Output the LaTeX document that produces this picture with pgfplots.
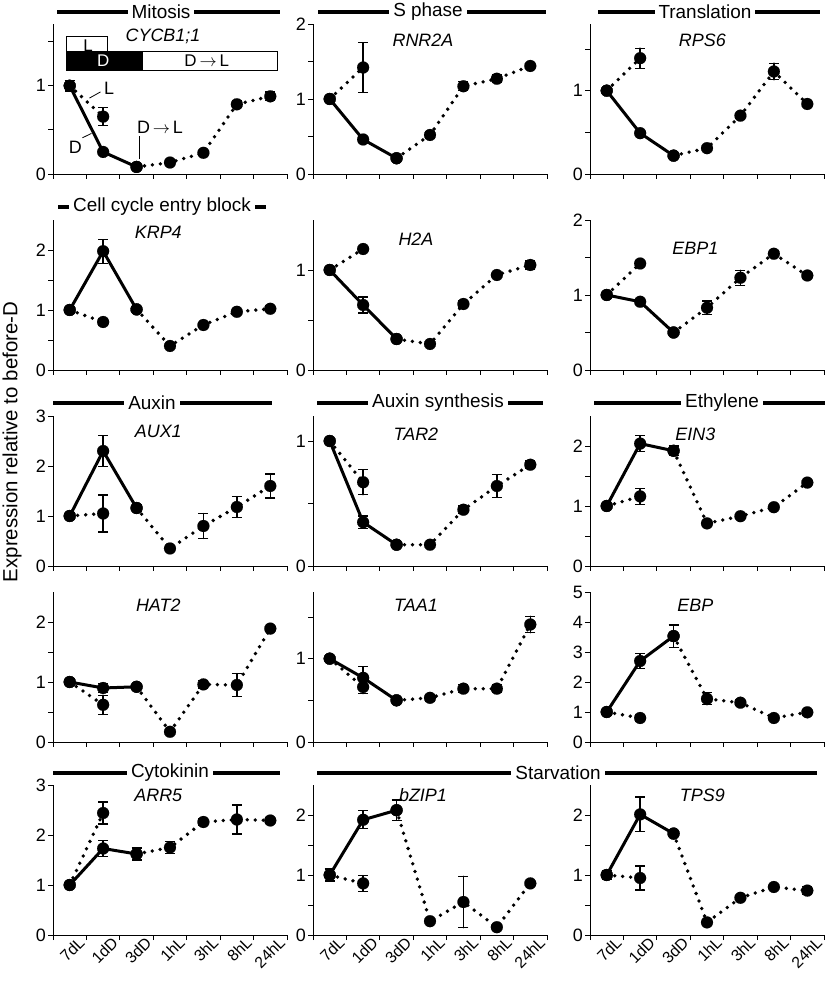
\documentclass[border=0pt]{standalone}
\usepackage{fontspec}
\setmainfont{Liberation Sans}
\usepackage{pgfplots}
\pgfplotsset{compat=1.18}

\pgfplotsset{
  panel/.style={
    scale only axis, width=234bp, height=150bp,
    axis x line*=bottom, axis y line*=left,
    xmin=-0.5, xmax=6.5, ymin=0,
    xtick={-0.5,0.5,1.5,2.5,3.5,4.5,5.5,6.5}, xticklabels={},
    tick align=outside, major tick length=5bp, minor tick length=5bp,
    every tick/.style={black, line width=0.9bp},
    axis line style={black, line width=0.9bp, -},
    yticklabel style={font=\fontsize{18}{20}\selectfont, inner sep=2bp},
    /pgf/number format/assume math mode=true,
    clip=false, anchor=south west,
  },
  bottomrow/.style={
    extra x ticks={0,1,2,3,4,5,6},
    extra x tick labels={7dL,1dD,3dD,1hL,3hL,8hL,24hL},
    extra x tick style={major tick length=0bp,
      xticklabel style={rotate=45, anchor=north east, inner sep=0bp,
        font=\fontsize{16}{18}\selectfont, yshift=-6bp, xshift=5bp}},
  },
  base/.style={black, mark=*, mark size=6bp,
    mark options={solid, fill=black, line width=0.1bp},
    error bars/y dir=both, error bars/y explicit,
    error bars/error bar style={solid, line width=1.3bp},
    error bars/error mark options={solid, rotate=90, line width=1.3bp, mark size=5bp}},
  Dser/.style={base, line width=3bp, line join=round},
  Lser/.style={base, line width=3.8bp, line cap=round, dash pattern=on 0bp off 8bp},
}
\newcommand{\gene}[2]{\node[font=\itshape\fontsize{18}{20}\selectfont] at (rel axis cs:#1) {#2};}
\newcommand{\hdr}[4]{% x1 x2 y
  \draw[line width=3.8bp] (#1bp,#3bp) -- (#2bp,#3bp);}
\newcommand{\htext}[3]{\node[fill=white, inner xsep=4bp, inner ysep=1bp, font=\fontsize{19}{21}\selectfont] at (#1bp,#2bp) {#3};}

\begin{document}
\begin{tikzpicture}
\useasboundingbox (0bp,0bp) rectangle (835bp,985bp);

% y label
\node[rotate=90, font=\fontsize{20.5}{22}\selectfont] at (12bp,543bp) {Expression relative to before-D};

% headers
\hdr{57}{280}{973}{}\htext{161}{973}{Mitosis}
\hdr{318}{546}{973}{}\htext{428}{973}{S phase}
\hdr{598}{820}{973}{}\htext{705}{973}{Translation}
\hdr{58}{266}{778}{}\htext{162}{778}{Cell cycle entry block}
\hdr{53}{272}{582}{}\htext{152}{582}{Auxin}
\hdr{317}{543}{582}{}\htext{438}{582}{Auxin synthesis}
\hdr{594}{825}{582}{}\htext{722}{582}{Ethylene}
\hdr{53}{280}{212}{}\htext{170}{212}{Cytokinin}
\hdr{317}{817}{212}{}\htext{558}{212}{Starvation}

% ---------------- Row 1
\begin{axis}[panel, at={(53bp,811bp)}, ymax=1.7, ytick={0,1}, minor ytick={0.5,1.5}]
\addplot[Lser] coordinates {(0,1) (1,0.65) +- (0,0.1)};
\addplot[Lser] coordinates {(2,0.08) (3,0.13) (4,0.24) +- (0,0.03) (5,0.79) +- (0,0.04) (6,0.88) +- (0,0.05)};
\addplot[Dser] coordinates {(0,1) +- (0,0.06) (1,0.25) +- (0,0.02) (2,0.08) +- (0,0.01)};
\gene{0.47,0.92}{CYCB1;1}
\draw[line width=1bp, fill=white] (axis cs:-0.09,1.39) rectangle (axis cs:1.14,1.56);
\draw[line width=1bp, fill=black] (axis cs:-0.09,1.17) rectangle (axis cs:2.18,1.39);
\draw[line width=1bp, fill=white] (axis cs:2.18,1.17) rectangle (axis cs:6.21,1.39);
\node[font=\fontsize{17}{19}\selectfont, inner sep=0] at (axis cs:0.55,1.45) {L};
\node[font=\fontsize{17}{19}\selectfont, white, inner sep=0] at (axis cs:1.0,1.28) {D};
\node[font=\fontsize{17}{19}\selectfont, inner sep=0] at (axis cs:4.1,1.28) {D$\,\rightarrow\,$L};
\node[font=\fontsize{18}{20}\selectfont, inner sep=0] at (axis cs:1.18,0.97) {L};
\draw[line width=0.8bp] (axis cs:0.59,0.86) -- (axis cs:0.92,0.93);
\node[font=\fontsize{18}{20}\selectfont, inner sep=0] at (axis cs:0.17,0.30) {D};
\draw[line width=0.8bp] (axis cs:0.38,0.41) -- (axis cs:0.65,0.46);
\node[font=\fontsize{18}{20}\selectfont, inner sep=0] at (axis cs:2.7,0.53) {D$\,\rightarrow\,$L};
\draw[line width=0.8bp] (axis cs:2.07,0.43) -- (axis cs:2.07,0.17);
\end{axis}

\begin{axis}[panel, at={(313bp,811bp)}, ymax=2, ytick={0,1,2}, minor ytick={0.5,1.5}]
\addplot[Lser] coordinates {(0,1) (1,1.42) +- (0,0.33)};
\addplot[Lser] coordinates {(2,0.21) (3,0.52) +- (0,0.04) (4,1.17) +- (0,0.06) (5,1.27) +- (0,0.05) (6,1.44)};
\addplot[Dser] coordinates {(0,1) +- (0,0.02) (1,0.46) +- (0,0.03) (2,0.21)};
\gene{0.47,0.89}{RNR2A}
\end{axis}

\begin{axis}[panel, at={(590bp,811bp)}, ymax=1.8, ytick={0,1}, minor ytick={0.5,1.5}]
\addplot[Lser] coordinates {(0,1) (1,1.39) +- (0,0.12)};
\addplot[Lser] coordinates {(2,0.22) (3,0.31) (4,0.70) +- (0,0.03) (5,1.23) +- (0,0.1) (6,0.84) +- (0,0.02)};
\addplot[Dser] coordinates {(0,1) (1,0.49) (2,0.22)};
\gene{0.48,0.89}{RPS6}
\end{axis}

% ---------------- Row 2
\begin{axis}[panel, at={(53bp,615bp)}, ymax=2.5, ytick={0,1,2}, minor ytick={0.5,1.5}]
\addplot[Lser] coordinates {(0,1) (1,0.80) +- (0,0.06)};
\addplot[Lser] coordinates {(2,1.01) (3,0.40) (4,0.75) +- (0,0.03) (5,0.97) +- (0,0.04) (6,1.02) +- (0,0.05)};
\addplot[Dser] coordinates {(0,1) +- (0,0.05) (1,1.98) +- (0,0.2) (2,1.01) +- (0,0.04)};
\gene{0.45,0.92}{KRP4}
\end{axis}

\begin{axis}[panel, at={(313bp,615bp)}, ymax=1.5, ytick={0,1}, minor ytick={0.5}]
\addplot[Lser] coordinates {(0,1) (1,1.21)};
\addplot[Lser] coordinates {(2,0.31) (3,0.26) (4,0.66) +- (0,0.03) (5,0.95) +- (0,0.02) (6,1.05) +- (0,0.04)};
\addplot[Dser] coordinates {(0,1) +- (0,0.03) (1,0.65) +- (0,0.08) (2,0.31)};
\gene{0.44,0.87}{H2A}
\end{axis}

\begin{axis}[panel, at={(590bp,615bp)}, ymax=2, ytick={0,1,2}, minor ytick={0.5,1.5}]
\addplot[Lser] coordinates {(0,1) (1,1.42)};
\addplot[Lser] coordinates {(2,0.50) (3,0.83) +- (0,0.09) (4,1.23) +- (0,0.1) (5,1.55) +- (0,0.04) (6,1.26) +- (0,0.04)};
\addplot[Dser] coordinates {(0,1) +- (0,0.04) (1,0.91) +- (0,0.03) (2,0.50)};
\gene{0.45,0.81}{EBP1}
\end{axis}

% ---------------- Row 3
\begin{axis}[panel, at={(53bp,419bp)}, ymax=3, ytick={0,1,2,3}]
\addplot[Lser] coordinates {(0,1) (1,1.05) +- (0,0.37)};
\addplot[Lser] coordinates {(2,1.16) (3,0.35) (4,0.8) +- (0,0.25) (5,1.18) +- (0,0.21) (6,1.6) +- (0,0.24)};
\addplot[Dser] coordinates {(0,1) +- (0,0.06) (1,2.3) +- (0,0.31) (2,1.16) +- (0,0.07)};
\gene{0.45,0.9}{AUX1}
\end{axis}

\begin{axis}[panel, at={(313bp,419bp)}, ymax=1.2, ytick={0,1}, minor ytick={0.5}]
\addplot[Lser] coordinates {(0,1) (1,0.67) +- (0,0.1)};
\addplot[Lser] coordinates {(2,0.17) (3,0.17) (4,0.45) +- (0,0.03) (5,0.64) +- (0,0.09) (6,0.81) +- (0,0.03)};
\addplot[Dser] coordinates {(0,1) +- (0,0.02) (1,0.35) +- (0,0.05) (2,0.17) +- (0,0.02)};
\gene{0.44,0.88}{TAR2}
\end{axis}

\begin{axis}[panel, at={(590bp,419bp)}, ymax=2.5, ytick={0,1,2}, minor ytick={0.5,1.5}]
\addplot[Lser] coordinates {(0,1) (1,1.16) +- (0,0.13)};
\addplot[Lser] coordinates {(2,1.92) (3,0.71) (4,0.83) +- (0,0.03) (5,0.98) +- (0,0.03) (6,1.39)};
\addplot[Dser] coordinates {(0,1) +- (0,0.04) (1,2.04) +- (0,0.13) (2,1.92) +- (0,0.08)};
\gene{0.45,0.88}{EIN3}
\end{axis}

% ---------------- Row 4
\begin{axis}[panel, at={(53bp,243bp)}, ymax=2.5, ytick={0,1,2}, minor ytick={0.5,1.5}]
\addplot[Lser] coordinates {(0,1) (1,0.62) +- (0,0.16)};
\addplot[Lser] coordinates {(2,0.92) (3,0.17) (4,0.96) +- (0,0.06) (5,0.95) +- (0,0.19) (6,1.89) +- (0,0.04)};
\addplot[Dser] coordinates {(0,1) +- (0,0.06) (1,0.90) +- (0,0.08) (2,0.92) +- (0,0.03)};
\gene{0.45,0.91}{HAT2}
\end{axis}

\begin{axis}[panel, at={(313bp,243bp)}, ymax=1.8, ytick={0,1}, minor ytick={0.5,1.5}]
\addplot[Lser] coordinates {(0,1) (1,0.66) +- (0,0.08)};
\addplot[Lser] coordinates {(2,0.50) (3,0.53) +- (0,0.04) (4,0.64) +- (0,0.05) (5,0.64) +- (0,0.05) (6,1.41) +- (0,0.1)};
\addplot[Dser] coordinates {(0,1) +- (0,0.02) (1,0.77) +- (0,0.14) (2,0.50) +- (0,0.02)};
\gene{0.44,0.91}{TAA1}
\end{axis}

\begin{axis}[panel, at={(590bp,243bp)}, ymax=5, ytick={0,1,2,3,4,5}]
\addplot[Lser] coordinates {(0,1) (1,0.8) +- (0,0.12)};
\addplot[Lser] coordinates {(2,3.53) (3,1.44) +- (0,0.2) (4,1.31) +- (0,0.1) (5,0.8) +- (0,0.05) (6,0.99) +- (0,0.1)};
\addplot[Dser] coordinates {(0,1) +- (0,0.1) (1,2.7) +- (0,0.25) (2,3.53) +- (0,0.37)};
\gene{0.45,0.91}{EBP}
\end{axis}

% ---------------- Row 5
\begin{axis}[panel, bottomrow, at={(53bp,50bp)}, ymax=3, ytick={0,1,2,3}]
\addplot[Lser] coordinates {(0,1) (1,2.44) +- (0,0.22)};
\addplot[Lser] coordinates {(2,1.62) (3,1.75) +- (0,0.12) (4,2.26) +- (0,0.07) (5,2.31) +- (0,0.29) (6,2.29) +- (0,0.06)};
\addplot[Dser] coordinates {(0,1) +- (0,0.03) (1,1.73) +- (0,0.16) (2,1.62) +- (0,0.12)};
\gene{0.45,0.93}{ARR5}
\end{axis}

\begin{axis}[panel, bottomrow, at={(313bp,50bp)}, ymax=2.5, ytick={0,1,2}, minor ytick={0.5,1.5}]
\addplot[Lser] coordinates {(0,1) (1,0.86) +- (0,0.13)};
\addplot[Lser] coordinates {(2,2.08) (3,0.23) (4,0.55) +- (0,0.43) (5,0.13) (6,0.86)};
\addplot[Dser] coordinates {(0,1) +- (0,0.1) (1,1.92) +- (0,0.15) (2,2.08) +- (0,0.17)};
\gene{0.47,0.93}{bZIP1}
\end{axis}

\begin{axis}[panel, bottomrow, at={(590bp,50bp)}, ymax=2.5, ytick={0,1,2}, minor ytick={0.5,1.5}]
\addplot[Lser] coordinates {(0,1) (1,0.95) +- (0,0.2)};
\addplot[Lser] coordinates {(2,1.69) (3,0.21) (4,0.62) (5,0.8) (6,0.74) +- (0,0.07)};
\addplot[Dser] coordinates {(0,1) +- (0,0.07) (1,2.01) +- (0,0.29) (2,1.69) +- (0,0.05)};
\gene{0.48,0.93}{TPS9}
\end{axis}

\end{tikzpicture}
\end{document}
